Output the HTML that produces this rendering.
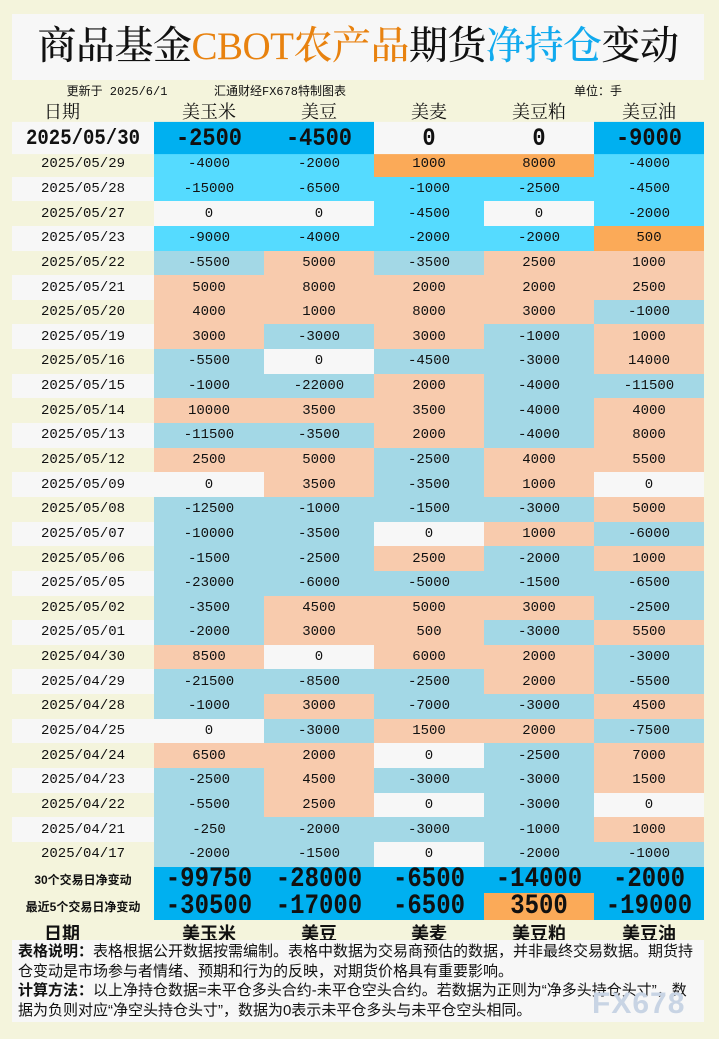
<!DOCTYPE html>
<html><head><meta charset="utf-8"><style>
*{margin:0;padding:0;box-sizing:border-box}
body{width:719px;height:1039px;background:#f4f4dc;position:relative;overflow:hidden;font-family:"Liberation Serif","Noto Serif CJK SC",serif;color:#111}
.title{position:absolute;left:12px;top:14px;width:692px;height:66px;background:#f7f7f7;text-align:center;font-size:39px;line-height:66px;font-weight:500;letter-spacing:-0.5px}
.o{color:#e8820f}.b{color:#11aaee}
.sub{position:absolute;top:82px;font-size:12px;font-family:"Liberation Mono","Noto Sans CJK SC",monospace;transform:translateX(-50%);white-space:nowrap}
.hdr{position:absolute;top:98px;font-size:18px;transform:translateX(-50%);white-space:nowrap}
.fh{position:absolute;top:920px;font-size:18px;font-weight:bold;font-family:"Liberation Sans","Noto Sans CJK SC",sans-serif;transform:translateX(-50%);white-space:nowrap}
.g{position:absolute;left:12px;top:124px;display:grid;grid-template-columns:142px repeat(5,110px);grid-template-rows:28px repeat(29,24.655px) 26.5px 26.5px}
.g div{display:flex;align-items:center;justify-content:center;font-family:"Liberation Mono","Noto Sans CJK SC",monospace;font-size:14px}
.w{background:#f7f7f7}.y{background:#f4f4dc}
.D{background:#00b0f0}.C{background:#55dbff}.O{background:#fbaa58}.L{background:#a3d8e6}.P{background:#f8cbad}
.g div.t{font-size:22px;font-weight:600;transform:scaleY(1.15)}
.g div.sl{font-family:"Liberation Sans","Noto Sans CJK SC",sans-serif;font-size:12px;font-weight:bold}
.g div.s span{font-size:24px;font-weight:600;display:inline-block;transform:scaleY(1.15)}
.note{position:absolute;left:12px;top:940px;width:692px;height:82px;background:#f7f7f7;padding:2px 4px 0 6px;font-size:15px;line-height:19.5px;font-family:"Liberation Sans","Noto Sans CJK SC",sans-serif}
.wm{position:absolute;left:592px;top:987px;font-size:30px;color:#c8d4e4;font-family:"Liberation Sans",sans-serif;font-weight:bold;letter-spacing:1px}
</style></head><body>
<div class="title">商品基金<span class="o">CBOT农产品</span>期货<span class="b">净持仓</span>变动</div>
<div class="sub" style="left:117px">更新于 2025/6/1</div>
<div class="sub" style="left:280px">汇通财经FX678特制图表</div>
<div class="sub" style="left:598px">单位：手</div>
<div class="hdr" style="left:62px">日期</div>
<div class="hdr" style="left:209px">美玉米</div>
<div class="hdr" style="left:319px">美豆</div>
<div class="hdr" style="left:429px">美麦</div>
<div class="hdr" style="left:539px">美豆粕</div>
<div class="hdr" style="left:649px">美豆油</div>
<div class="g">
<div class="w t" style="font-size:19px">2025/05/30</div><div class="D t">-2500</div><div class="D t">-4500</div><div class="w t">0</div><div class="w t">0</div><div class="D t">-9000</div>
<div class="y">2025/05/29</div><div class="C">-4000</div><div class="C">-2000</div><div class="O">1000</div><div class="O">8000</div><div class="C">-4000</div>
<div class="w">2025/05/28</div><div class="C">-15000</div><div class="C">-6500</div><div class="C">-1000</div><div class="C">-2500</div><div class="C">-4500</div>
<div class="y">2025/05/27</div><div class="w">0</div><div class="w">0</div><div class="C">-4500</div><div class="w">0</div><div class="C">-2000</div>
<div class="w">2025/05/23</div><div class="C">-9000</div><div class="C">-4000</div><div class="C">-2000</div><div class="C">-2000</div><div class="O">500</div>
<div class="y">2025/05/22</div><div class="L">-5500</div><div class="P">5000</div><div class="L">-3500</div><div class="P">2500</div><div class="P">1000</div>
<div class="w">2025/05/21</div><div class="P">5000</div><div class="P">8000</div><div class="P">2000</div><div class="P">2000</div><div class="P">2500</div>
<div class="y">2025/05/20</div><div class="P">4000</div><div class="P">1000</div><div class="P">8000</div><div class="P">3000</div><div class="L">-1000</div>
<div class="w">2025/05/19</div><div class="P">3000</div><div class="L">-3000</div><div class="P">3000</div><div class="L">-1000</div><div class="P">1000</div>
<div class="y">2025/05/16</div><div class="L">-5500</div><div class="w">0</div><div class="L">-4500</div><div class="L">-3000</div><div class="P">14000</div>
<div class="w">2025/05/15</div><div class="L">-1000</div><div class="L">-22000</div><div class="P">2000</div><div class="L">-4000</div><div class="L">-11500</div>
<div class="y">2025/05/14</div><div class="P">10000</div><div class="P">3500</div><div class="P">3500</div><div class="L">-4000</div><div class="P">4000</div>
<div class="w">2025/05/13</div><div class="L">-11500</div><div class="L">-3500</div><div class="P">2000</div><div class="L">-4000</div><div class="P">8000</div>
<div class="y">2025/05/12</div><div class="P">2500</div><div class="P">5000</div><div class="L">-2500</div><div class="P">4000</div><div class="P">5500</div>
<div class="w">2025/05/09</div><div class="w">0</div><div class="P">3500</div><div class="L">-3500</div><div class="P">1000</div><div class="w">0</div>
<div class="y">2025/05/08</div><div class="L">-12500</div><div class="L">-1000</div><div class="L">-1500</div><div class="L">-3000</div><div class="P">5000</div>
<div class="w">2025/05/07</div><div class="L">-10000</div><div class="L">-3500</div><div class="w">0</div><div class="P">1000</div><div class="L">-6000</div>
<div class="y">2025/05/06</div><div class="L">-1500</div><div class="L">-2500</div><div class="P">2500</div><div class="L">-2000</div><div class="P">1000</div>
<div class="w">2025/05/05</div><div class="L">-23000</div><div class="L">-6000</div><div class="L">-5000</div><div class="L">-1500</div><div class="L">-6500</div>
<div class="y">2025/05/02</div><div class="L">-3500</div><div class="P">4500</div><div class="P">5000</div><div class="P">3000</div><div class="L">-2500</div>
<div class="w">2025/05/01</div><div class="L">-2000</div><div class="P">3000</div><div class="P">500</div><div class="L">-3000</div><div class="P">5500</div>
<div class="y">2025/04/30</div><div class="P">8500</div><div class="w">0</div><div class="P">6000</div><div class="P">2000</div><div class="L">-3000</div>
<div class="w">2025/04/29</div><div class="L">-21500</div><div class="L">-8500</div><div class="L">-2500</div><div class="P">2000</div><div class="L">-5500</div>
<div class="y">2025/04/28</div><div class="L">-1000</div><div class="P">3000</div><div class="L">-7000</div><div class="L">-3000</div><div class="P">4500</div>
<div class="w">2025/04/25</div><div class="w">0</div><div class="L">-3000</div><div class="P">1500</div><div class="P">2000</div><div class="L">-7500</div>
<div class="y">2025/04/24</div><div class="P">6500</div><div class="P">2000</div><div class="w">0</div><div class="L">-2500</div><div class="P">7000</div>
<div class="w">2025/04/23</div><div class="L">-2500</div><div class="P">4500</div><div class="L">-3000</div><div class="L">-3000</div><div class="P">1500</div>
<div class="y">2025/04/22</div><div class="L">-5500</div><div class="P">2500</div><div class="w">0</div><div class="L">-3000</div><div class="w">0</div>
<div class="w">2025/04/21</div><div class="L">-250</div><div class="L">-2000</div><div class="L">-3000</div><div class="L">-1000</div><div class="P">1000</div>
<div class="y">2025/04/17</div><div class="L">-2000</div><div class="L">-1500</div><div class="w">0</div><div class="L">-2000</div><div class="L">-1000</div>
<div class="y sl">30个交易日净变动</div><div class="D s"><span>-99750</span></div><div class="D s"><span>-28000</span></div><div class="D s"><span>-6500</span></div><div class="D s"><span>-14000</span></div><div class="D s"><span>-2000</span></div>
<div class="y sl">最近5个交易日净变动</div><div class="D s"><span>-30500</span></div><div class="D s"><span>-17000</span></div><div class="D s"><span>-6500</span></div><div class="O s"><span>3500</span></div><div class="D s"><span>-19000</span></div>
</div>
<div class="fh" style="left:62px">日期</div>
<div class="fh" style="left:209px">美玉米</div>
<div class="fh" style="left:319px">美豆</div>
<div class="fh" style="left:429px">美麦</div>
<div class="fh" style="left:539px">美豆粕</div>
<div class="fh" style="left:649px">美豆油</div>
<div class="note"><b>表格说明：</b>表格根据公开数据按需编制。表格中数据为交易商预估的数据，并非最终交易数据。期货持仓变动是市场参与者情绪、预期和行为的反映，对期货价格具有重要影响。<br><b>计算方法：</b>以上净持仓数据=未平仓多头合约-未平仓空头合约。若数据为正则为“净多头持仓头寸”，数据为负则对应“净空头持仓头寸”，数据为0表示未平仓多头与未平仓空头相同。</div>
<div class="wm">FX678</div>
</body></html>
